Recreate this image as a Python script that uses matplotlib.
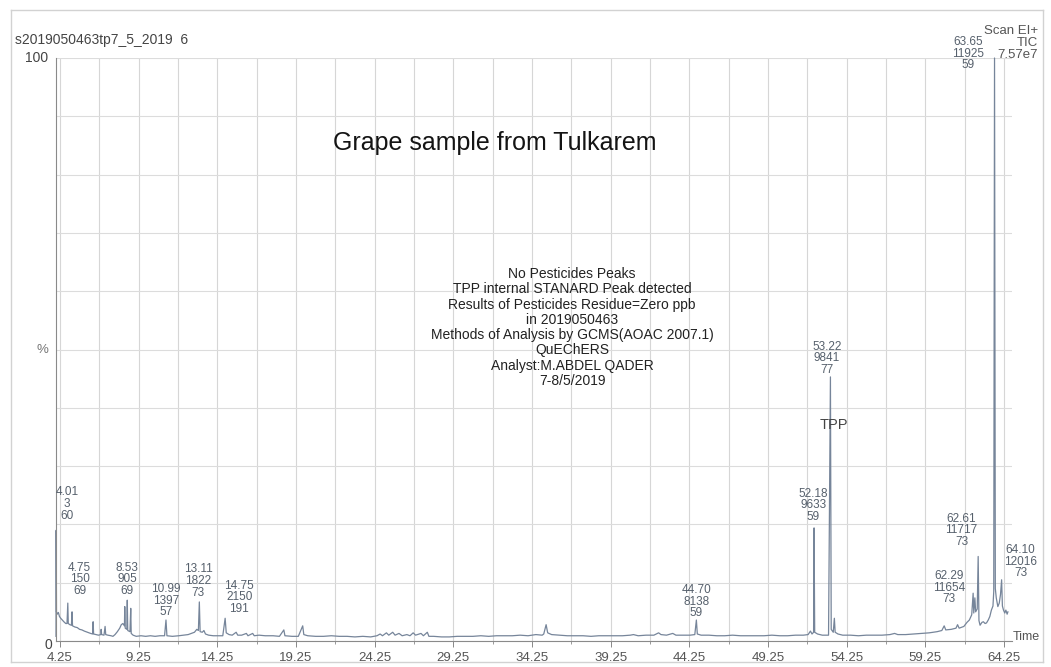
import matplotlib
matplotlib.use("Agg")
import matplotlib.pyplot as plt
from matplotlib.ticker import MultipleLocator
from matplotlib.lines import Line2D

plt.rcParams['font.family'] = ['Liberation Sans', 'DejaVu Sans']

# chromatogram trace (retention time in min, relative intensity in %)
trace_t = [4.00, 4.01, 4.03, 4.08, 4.15, 4.22, 4.30, 4.40, 4.50, 4.62, 4.70, 4.75, 4.78, 4.88,
           4.98, 5.02, 5.05, 5.20, 5.35, 5.50, 5.65, 5.80, 6.00, 6.20, 6.33, 6.36, 6.39, 6.55,
           6.70, 6.85, 6.87, 6.90, 7.05, 7.12, 7.16, 7.30, 7.50, 7.62, 7.75, 7.90, 8.05, 8.15,
           8.25, 8.35, 8.37, 8.40, 8.50, 8.53, 8.56, 8.70, 8.75, 8.78, 8.90, 9.10, 9.40, 9.70,
           10.00, 10.30, 10.60, 10.90, 10.99, 11.05, 11.40, 11.80, 12.10, 12.40, 12.60, 12.80,
           12.95, 13.05, 13.11, 13.16, 13.30, 13.40, 13.50, 13.70, 14.00, 14.30, 14.60, 14.75,
           14.82, 15.00, 15.20, 15.45, 15.55, 15.80, 16.10, 16.20, 16.50, 16.60, 16.90, 17.30,
           17.80, 18.20, 18.48, 18.55, 19.00, 19.40, 19.68, 19.75, 20.00, 20.50, 21.00, 21.50,
           22.00, 22.50, 23.00, 23.50, 24.00, 24.40, 24.60, 24.75, 25.00, 25.15, 25.40, 25.55,
           25.80, 26.00, 26.30, 26.50, 26.70, 26.85, 27.20, 27.35, 27.60, 27.70, 28.00, 28.50,
           29.00, 29.50, 30.00, 30.50, 31.00, 31.50, 32.00, 32.50, 33.00, 33.50, 34.00, 34.50,
           34.90, 35.00, 35.15, 35.25, 35.50, 36.00, 36.50, 37.00, 37.50, 38.00, 38.50, 39.00,
           39.50, 40.00, 40.50, 40.70, 41.00, 41.50, 42.00, 42.30, 42.45, 42.80, 43.20, 43.40,
           43.80, 44.30, 44.60, 44.70, 44.76, 45.00, 45.50, 46.00, 46.50, 47.00, 47.50, 48.00,
           48.50, 49.00, 49.50, 50.00, 50.50, 51.00, 51.50, 51.80, 51.95, 52.05, 52.15, 52.18,
           52.22, 52.40, 52.70, 53.10, 53.22, 53.27, 53.40, 53.47, 53.52, 53.70, 54.00, 54.50,
           55.00, 55.50, 56.00, 56.50, 57.00, 57.30, 57.50, 58.00, 58.50, 59.00, 59.50, 60.00,
           60.30, 60.45, 60.55, 60.90, 61.20, 61.30, 61.40, 61.70, 61.90, 62.05, 62.20, 62.29,
           62.33, 62.40, 62.45, 62.55, 62.61, 62.66, 62.73, 62.85, 62.94, 63.05, 63.14, 63.25,
           63.35, 63.45, 63.55, 63.60, 63.65, 63.70, 63.76, 63.86, 63.95, 64.03, 64.10, 64.15,
           64.22, 64.30, 64.37, 64.45, 64.50]
trace_y = [0.8, 19.0, 5.0, 4.6, 4.9, 4.2, 3.9, 3.6, 3.3, 3.0, 3.0, 6.5, 3.0, 2.8,
           2.7, 5.0, 2.6, 2.4, 2.3, 2.0, 1.9, 1.7, 1.5, 1.3, 1.2, 3.3, 1.2, 1.1,
           1.0, 1.1, 2.0, 1.1, 1.0, 2.5, 1.1, 1.0, 0.9, 0.8, 1.1, 1.6, 2.2, 2.8,
           3.0, 2.6, 5.9, 2.2, 2.0, 7.0, 1.8, 1.6, 5.6, 1.3, 1.0, 0.8, 0.9, 0.8,
           0.9, 0.8, 0.9, 0.9, 3.6, 0.9, 0.8, 0.9, 1.0, 1.1, 1.3, 1.5,
           2.0, 1.8, 6.7, 1.6, 1.5, 1.8, 1.2, 1.0, 0.9, 0.9, 0.9, 3.9,
           1.4, 1.1, 1.0, 1.5, 1.0, 1.0, 1.3, 0.9, 1.3, 0.9, 1.0, 0.9,
           0.9, 0.8, 1.9, 0.9, 0.8, 0.8, 2.6, 1.1, 0.9, 0.8, 0.8, 0.9,
           0.8, 0.8, 0.7, 0.8, 0.7, 0.9, 1.2, 0.9, 1.4, 1.0, 1.5, 1.0,
           1.3, 0.9, 1.1, 0.9, 1.4, 1.0, 1.3, 0.9, 1.5, 0.8, 0.8, 0.7,
           0.7, 0.8, 0.8, 0.8, 0.9, 0.8, 0.9, 0.9, 0.9, 1.0, 0.9, 1.1,
           1.0, 1.2, 2.8, 1.4, 1.1, 1.0, 0.9, 0.9, 0.9, 0.8, 0.9, 0.9,
           0.9, 0.9, 1.0, 1.1, 0.9, 1.0, 1.0, 1.4, 1.1, 1.0, 1.3, 1.0,
           1.0, 1.0, 1.1, 3.6, 1.2, 1.0, 1.0, 0.9, 0.9, 1.0, 0.9, 0.9,
           0.9, 0.9, 1.0, 0.9, 0.9, 1.0, 1.0, 1.1, 1.7, 1.2, 1.5, 19.4,
           1.5, 1.2, 1.0, 1.0, 45.3, 2.0, 1.5, 3.9, 1.5, 1.2, 1.0, 1.0,
           0.9, 1.0, 1.0, 1.0, 1.1, 1.3, 1.1, 1.1, 1.2, 1.3, 1.4, 1.6,
           1.8, 2.6, 1.9, 2.0, 2.2, 2.8, 2.2, 2.5, 3.2, 3.6, 4.5, 8.2,
           4.8, 7.4, 5.0, 5.5, 14.5, 3.5, 2.7, 3.2, 3.3, 3.0, 3.1, 3.6,
           4.2, 5.3, 6.0, 8.5, 100.0, 9.0, 7.4, 5.9, 6.5, 8.0, 10.5, 6.0,
           5.3, 4.8, 5.3, 4.6, 5.0]

# peak annotations: retention time, area, base m/z
peak_rt = ["4.01", "4.75", "8.53", "10.99", "13.11", "14.75", "44.70",
           "52.18", "53.22", "62.29", "62.61", "64.10", "63.65"]
peak_area = ["3", "150", "905", "1397", "1822", "2150", "8138",
             "9633", "9841", "11654", "11717", "12016", "11925"]
peak_mz = ["60", "69", "69", "57", "73", "191", "59",
           "59", "77", "73", "73", "73", "59"]

x_ticks = [4.25, 9.25, 14.25, 19.25, 24.25, 29.25, 34.25, 39.25, 44.25, 49.25, 54.25, 59.25, 64.25]

info_lines = ["No Pesticides Peaks",
              "TPP internal STANARD Peak detected",
              "Results of Pesticides Residue=Zero ppb",
              "in 2019050463",
              "Methods of Analysis by GCMS(AOAC 2007.1)",
              "QuEChERS",
              "Analyst:M.ABDEL QADER",
              "7-8/5/2019"]

W, H = 1051, 667
fig = plt.figure(figsize=(W / 100, H / 100), dpi=100)


def fx(px):
    return px / W


def fy(py):
    return 1 - py / H


ax = fig.add_axes([fx(56), fy(641), fx(1012) - fx(56), fy(58) - fy(641)])
ax.set_xlim(4.0, 64.76)
ax.set_ylim(0, 100)

line_col = '#76859a'
lab_col = '#56606c'

ax.plot(trace_t, trace_y, color=line_col, linewidth=0.9, clip_on=False)

ax.set_xticks(x_ticks)
ax.set_xticklabels([f"{t:.2f}" for t in x_ticks])
ax.xaxis.set_minor_locator(MultipleLocator(2.5, offset=1.75))
ax.set_yticks(range(0, 101, 10))
ax.set_yticklabels([])
ax.grid(True, which='both', axis='x', color='#d6d6d6', linewidth=0.8)
ax.grid(True, which='major', axis='y', color='#dcdcdc', linewidth=0.8)
ax.set_axisbelow(True)
ax.tick_params(axis='x', which='major', length=4, width=0.7, color='#888888',
               labelsize=9.5, labelcolor='#555555', pad=4)
ax.tick_params(axis='x', which='minor', length=2.5, width=0.6, color='#888888')
ax.tick_params(axis='y', length=0)
for s in ['top', 'right']:
    ax.spines[s].set_visible(False)
ax.spines['left'].set_color('#8a8a8a')
ax.spines['bottom'].set_color('#8a8a8a')
ax.spines['left'].set_linewidth(0.8)
ax.spines['bottom'].set_linewidth(0.8)

# label positions (time, % of middle line), set beside the peaks
label_pos = [(4.70, 23.5), (5.50, 10.6), (8.53, 10.6), (10.99, 6.9), (13.05, 10.3),
             (15.65, 7.5), (44.70, 6.7), (52.12, 23.3), (53.00, 48.5), (60.75, 9.1),
             (61.55, 19.0), (65.30, 13.6), (61.95, 100.7)]
for rt, area, mz, (lx, ly) in zip(peak_rt, peak_area, peak_mz, label_pos):
    ax.text(lx, ly, f"{rt}\n{area}\n{mz}", ha='center', va='center', fontsize=8.5,
            color=lab_col, linespacing=0.95, clip_on=False)

ax.text(53.45, 37.1, "TPP", ha='center', va='center', fontsize=10.5, color='#444444')

fig.text(fx(495), fy(143), "Grape sample from Tulkarem", ha='center', va='center',
         fontsize=18, color='#141414')
fig.text(fx(572), fy(327.5), "\n".join(info_lines), ha='center', va='center',
         fontsize=10, color='#222222', linespacing=1.12)

fig.text(fx(15), fy(40), "s2019050463tp7_5_2019  6", ha='left', va='center',
         fontsize=10, color='#444444')
fig.text(fx(1038), fy(31), "Scan EI+", ha='right', va='center', fontsize=9.5, color='#555555')
fig.text(fx(1038), fy(43), "TIC", ha='right', va='center', fontsize=9.5, color='#555555')
fig.text(fx(1038), fy(55), "7.57e7", ha='right', va='center', fontsize=9.5, color='#555555')
fig.text(fx(48), fy(58), "100", ha='right', va='center', fontsize=10, color='#444444')
fig.text(fx(48), fy(645), "0", ha='center', va='center', fontsize=10, color='#444444')
fig.text(fx(42), fy(350), "%", ha='center', va='center', fontsize=9.5, color='#777777')
fig.text(fx(1013), fy(637), "Time", ha='left', va='center', fontsize=9, color='#555555')

# scanned paper border
for (x0, y0, x1, y1) in [(11, 10, 1043, 10), (11, 10, 11, 662), (1043, 10, 1043, 662),
                         (11, 662, 1043, 662)]:
    fig.add_artist(Line2D([fx(x0), fx(x1)], [fy(y0), fy(y1)], color='#d2d2d2',
                          linewidth=1.0, transform=fig.transFigure))

fig.savefig("out.png", dpi=100, facecolor='white')
